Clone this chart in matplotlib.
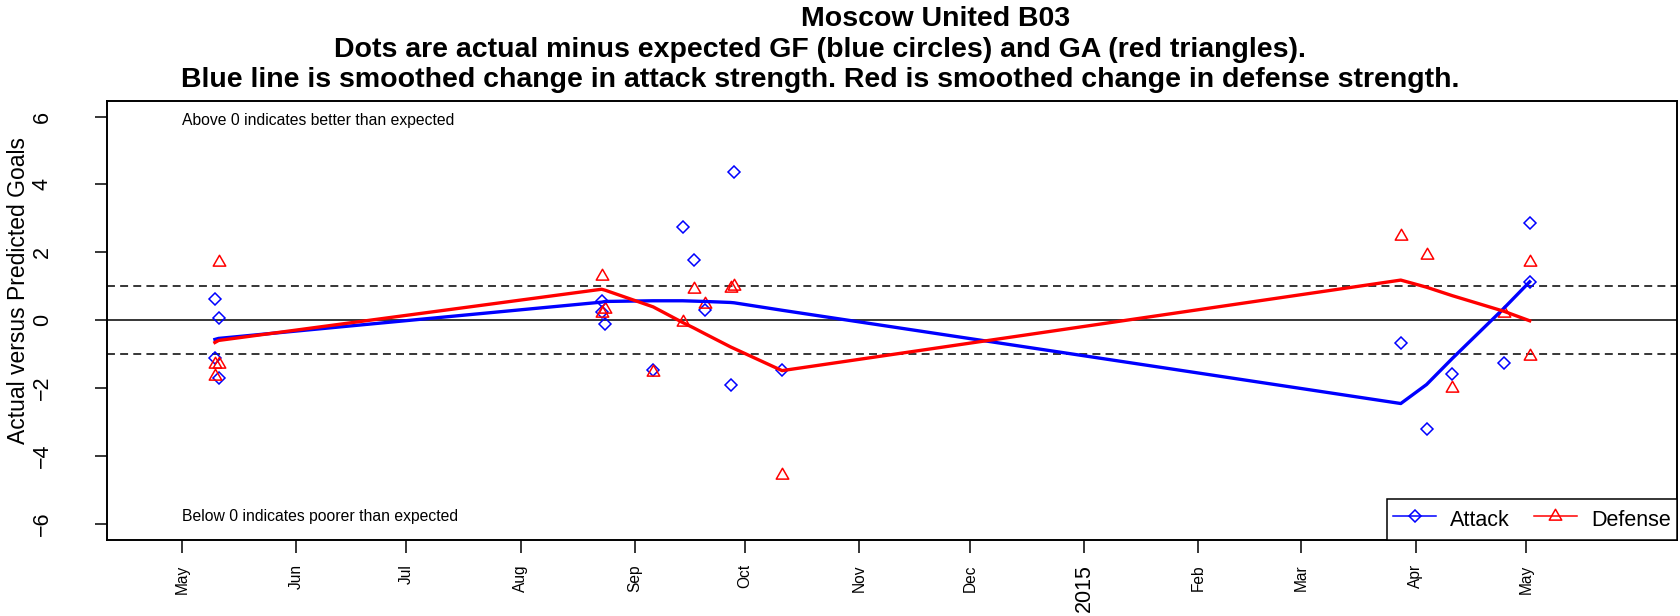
import matplotlib
matplotlib.use("Agg")
import matplotlib.pyplot as plt
from matplotlib.path import Path
from matplotlib.lines import Line2D
import datetime as dt

plt.rcParams['font.family'] = ['Liberation Sans', 'DejaVu Sans']

# ---------------- data ----------------
team = "Moscow United B03"
title_line2 = "Dots are actual minus expected GF (blue circles) and GA (red triangles)."
title_line3 = "Blue line is smoothed change in attack strength. Red is smoothed change in defense strength."

game_dates = ["2014-05-10", "2014-05-10", "2014-05-11", "2014-05-11",
              "2014-08-23", "2014-08-23", "2014-08-24",
              "2014-09-06", "2014-09-14", "2014-09-17", "2014-09-20",
              "2014-09-27", "2014-09-28", "2014-10-11",
              "2015-03-28", "2015-04-04", "2015-04-11", "2015-04-25",
              "2015-05-02", "2015-05-02"]
attack_diff = [0.61, -1.11, 0.05, -1.70,
               0.57, 0.25, -0.12,
               -1.46, 2.75, 1.76, 0.30,
               -1.90, 4.38, -1.46,
               -0.69, -3.20, -1.59, -1.26,
               2.85, 1.13]
defense_diff = [-1.28, -1.65, 1.72, -1.28,
                1.30, 0.20, 0.34,
                -1.52, -0.07, 0.91, 0.48,
                0.96, 1.01, -4.56,
                2.49, 1.92, -2.00, 0.21,
                1.72, -1.05]

smooth_dates = ["2014-05-10", "2014-05-11", "2014-08-23", "2014-08-24",
                "2014-09-06", "2014-09-14", "2014-09-17", "2014-09-20",
                "2014-09-27", "2014-09-28", "2014-10-11",
                "2015-03-28", "2015-04-04", "2015-04-11", "2015-04-25", "2015-05-02"]
attack_smooth = [-0.57, -0.54, 0.53, 0.55,
                 0.57, 0.57, 0.56, 0.55,
                 0.52, 0.51, 0.29,
                 -2.46, -1.90, -1.13, 0.35, 1.13]
defense_smooth = [-0.66, -0.60, 0.91, 0.88,
                  0.39, -0.07, -0.23, -0.40,
                  -0.79, -0.84, -1.49,
                  1.18, 0.97, 0.72, 0.26, -0.02]

tick_dates = ["2014-05-01", "2014-06-01", "2014-07-01", "2014-08-01", "2014-09-01",
              "2014-10-01", "2014-11-01", "2014-12-01", "2015-01-01", "2015-02-01",
              "2015-03-01", "2015-04-01", "2015-05-01"]
tick_labels = ["May", "Jun", "Jul", "Aug", "Sep", "Oct", "Nov", "Dec", "2015",
               "Feb", "Mar", "Apr", "May"]
y_ticks = [-6, -4, -2, 0, 2, 4, 6]

x_limits = ["2014-04-10 20:00", "2015-06-11"]
y_limits = [-6.47, 6.47]


def to_dt(s):
    fmt = "%Y-%m-%d %H:%M" if " " in s else "%Y-%m-%d"
    return dt.datetime.strptime(s, fmt)


gd = [to_dt(s) for s in game_dates]
sd = [to_dt(s) for s in smooth_dates]
td = [to_dt(s) for s in tick_dates]

# ---------------- figure ----------------
W, H = 1680, 616
fig = plt.figure(figsize=(W / 100, H / 100), dpi=100)
L, R, T, B = 107.5, 1677, 100.7, 539.5
ax = fig.add_axes([L / W, 1 - B / H, (R - L) / W, (B - T) / H])

ax.set_xlim(to_dt(x_limits[0]), to_dt(x_limits[1]))
ax.set_ylim(*y_limits)

# reference lines
ax.axhline(0, color='black', lw=1.1, zorder=1)
for yv in (1, -1):
    ax.axhline(yv, color='black', lw=1.1, ls=(0, (5.2, 3.4)), zorder=1)

# triangle marker with its centroid at the data point (like R pch 2)
tri = Path([(0, 1), (-0.866, -0.5), (0.866, -0.5), (0, 1)],
           [Path.MOVETO, Path.LINETO, Path.LINETO, Path.CLOSEPOLY])

blue = '#0000FF'
red = '#FF0000'
ax.plot(gd, attack_diff, ls='none', marker='D', ms=6.1, mfc='none',
        mec=blue, mew=1.1, zorder=3)
ax.plot(gd, defense_diff, ls='none', marker=tri, ms=10.4, mfc='none',
        mec=red, mew=1.1, zorder=3)

ax.plot(sd, attack_smooth, color=blue, lw=2.4, zorder=4)
ax.plot(sd, defense_smooth, color=red, lw=2.4, zorder=5)

# annotations
ax.text(to_dt("2014-05-01"), 5.9, "Above 0 indicates better than expected",
        fontsize=11.3, ha='left', va='center')
ax.text(to_dt("2014-05-01"), -5.78, "Below 0 indicates poorer than expected",
        fontsize=11.3, ha='left', va='center')

# axes styling
for sp in ax.spines.values():
    sp.set_linewidth(1.4)
ax.set_yticks(y_ticks)
ax.set_yticklabels([("\u2212%d" % -v) if v < 0 else str(v) for v in y_ticks],
                   rotation=90, va='center', ha='center', fontsize=15.5)
ax.tick_params(axis='y', length=8.5, width=1.1, pad=38.5)
ax.set_xticks(td)
ax.set_xticklabels(tick_labels, rotation=90, va='top', ha='center', fontsize=11.2)
for lab in ax.get_xticklabels():
    if lab.get_text() == "2015":
        lab.set_fontsize(15.5)
ax.tick_params(axis='x', length=9.1, width=1.1, pad=8.8)

fig.text(19 / W, 1 - 290 / H, "Actual versus Predicted Goals", rotation=90,
         ha='center', va='center', fontsize=16.5)

# title (three bold lines)
fig.text(936 / W, 1 - 19 / H, team, ha='center', va='center',
         fontsize=20.5, fontweight='bold')
fig.text(820 / W, 1 - 50 / H, title_line2, ha='center', va='center',
         fontsize=20.5, fontweight='bold')
fig.text(820 / W, 1 - 80 / H, title_line3, ha='center', va='center',
         fontsize=20.5, fontweight='bold')

# legend
handles = [Line2D([], [], color=blue, lw=1.1, marker='D', ms=6.1, mfc='none', mec=blue, mew=1.1),
           Line2D([], [], color=red, lw=1.1, marker=tri, ms=10.4, mfc='none', mec=red, mew=1.1)]
leg = ax.legend(handles, ["Attack", "Defense"], loc='lower right', bbox_to_anchor=(1, 0),
                ncol=2, fontsize=15.5, frameon=True, fancybox=False, framealpha=1,
                borderaxespad=0, borderpad=0.3, handlelength=2.0, handleheight=1.6,
                handletextpad=0.65, columnspacing=1.1)
leg.get_frame().set_edgecolor('black')
leg.get_frame().set_linewidth(1.1)

fig.savefig("out.png", dpi=100)
